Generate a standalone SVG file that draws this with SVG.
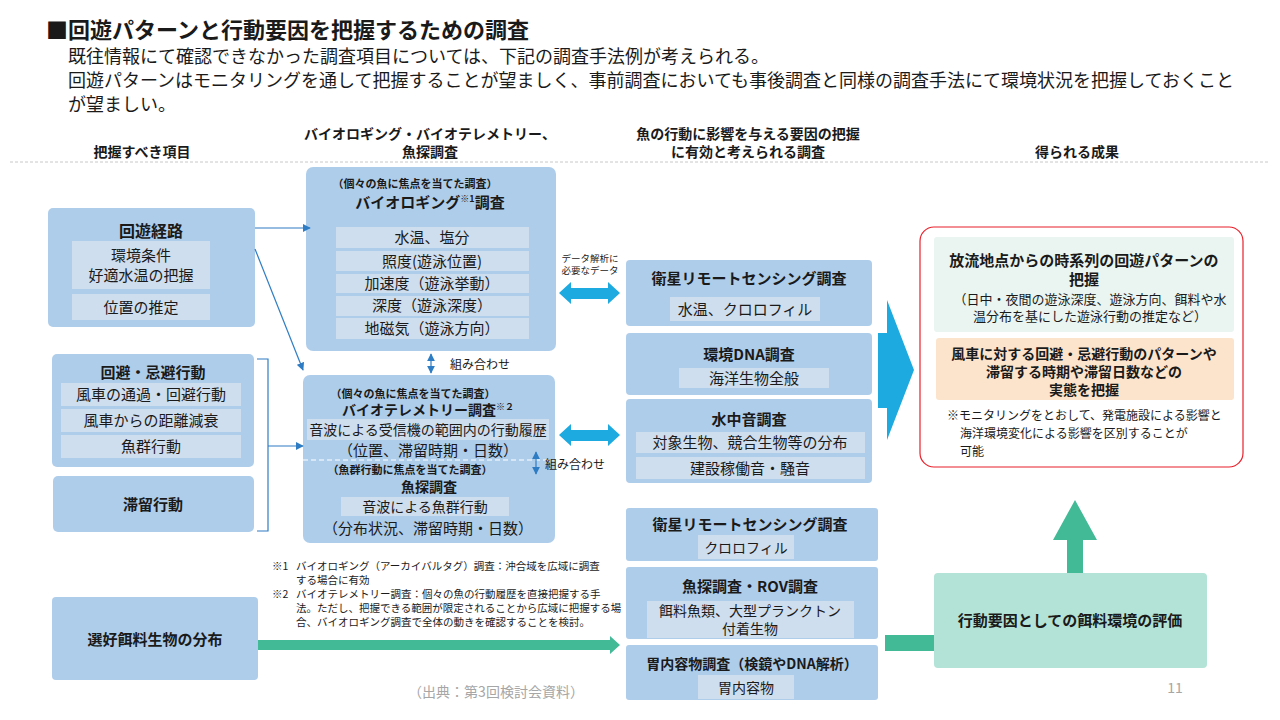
<svg xmlns="http://www.w3.org/2000/svg" width="1280" height="720" viewBox="0 0 1280 720">
<defs>
<style>
text{font-family:"Noto Sans CJK JP","Noto Sans CJK SC",sans-serif;fill:#1a1a1a}
.b{font-weight:700}
.c{text-anchor:middle}
.box{fill:#AECDEA}
.in{fill:#CFDEEE}
.t16{font-size:16px}
.t15{font-size:15px}
.t14{font-size:14px}
.t13{font-size:13px}
.t12{font-size:12px}
.t11{font-size:11px}
.fn{font-size:10.5px}
.ln{stroke:#2E7DC4;stroke-width:1.2;fill:none}
.cy{fill:#1DAAE0}
.gr{fill:#43BA96}
</style>
<marker id="ah" viewBox="0 0 10 10" refX="9" refY="5" markerWidth="8" markerHeight="8" orient="auto-start-reverse" markerUnits="userSpaceOnUse">
<path d="M0,0 L10,5 L0,10 z" fill="#2E7DC4"/>
</marker>
</defs>
<rect width="1280" height="720" fill="#fff"/>

<g id="title">
<text x="46" y="38" class="b" font-size="22">■回遊パターンと行動要因を把握するための調査</text>
<text x="68" y="63" font-size="18">既往情報にて確認できなかった調査項目については、下記の調査手法例が考えられる。</text>
<text x="68" y="87" font-size="18">回遊パターンはモニタリングを通して把握することが望ましく、事前調査においても事後調査と同様の調査手法にて環境状況を把握しておくこと</text>
<text x="68" y="111" font-size="18">が望ましい。</text>
</g>

<g id="headers">
<text x="142" y="157" class="b c t14">把握すべき項目</text>
<text x="430" y="139" class="b c t14">バイオロギング・バイオテレメトリー、</text>
<text x="430" y="157" class="b c t14">魚探調査</text>
<text x="748" y="139" class="b c t14">魚の行動に影響を与える要因の把握</text>
<text x="748" y="157" class="b c t14">に有効と考えられる調査</text>
<text x="1077" y="157" class="b c t14">得られる成果</text>
<line x1="10" y1="162" x2="1270" y2="162" stroke="#C8C8C8" stroke-width="1" stroke-dasharray="3,2"/>
</g>

<g id="n-kaiyu">
<rect x="48" y="208" width="207" height="119" rx="5" class="box"/>
<text x="151" y="237" class="b c t16">回遊経路</text>
<rect x="72" y="241" width="138" height="48" class="in"/>
<text x="141" y="261" class="c t15">環境条件</text>
<text x="141" y="281" class="c t15">好適水温の把握</text>
<rect x="72" y="294" width="138" height="26" class="in"/>
<text x="141" y="313" class="c t15">位置の推定</text>
</g>

<g id="n-kaihi">
<rect x="52" y="354" width="202" height="113" rx="5" class="box"/>
<text x="153" y="378" class="b c t15">回避・忌避行動</text>
<rect x="61" y="383" width="180" height="23" class="in"/>
<text x="151" y="400" class="c t15">風車の通過・回避行動</text>
<rect x="61" y="409" width="180" height="23" class="in"/>
<text x="151" y="426" class="c t15">風車からの距離減衰</text>
<rect x="61" y="435" width="180" height="23" class="in"/>
<text x="151" y="452" class="c t15">魚群行動</text>
</g>

<g id="n-tairyu">
<rect x="53" y="476" width="201" height="56" rx="5" class="box"/>
<text x="153" y="510" class="b c t15">滞留行動</text>
</g>

<g id="n-esa">
<rect x="52" y="597" width="206" height="83" rx="4" class="box"/>
<text x="155" y="645" class="b c t15">選好餌料生物の分布</text>
</g>

<g id="n-biologging">
<rect x="306" y="167" width="250" height="184" rx="7" class="box"/>
<text x="415" y="188" class="b c t11">（個々の魚に焦点を当てた調査）</text>
<text x="430" y="208" class="b c t15">バイオロギング<tspan font-size="9" dy="-6">※1</tspan><tspan dy="6">調査</tspan></text>
<rect x="336" y="227" width="193" height="21" class="in"/>
<text x="432" y="243" class="c t15">水温、塩分</text>
<rect x="336" y="251" width="193" height="20" class="in"/>
<text x="432" y="267" class="c t15">照度(遊泳位置)</text>
<rect x="336" y="274" width="193" height="19" class="in"/>
<text x="432" y="289" class="c t15">加速度（遊泳挙動）</text>
<rect x="336" y="296" width="193" height="20" class="in"/>
<text x="432" y="311" class="c t15">深度（遊泳深度）</text>
<rect x="336" y="318" width="193" height="21" class="in"/>
<text x="432" y="334" class="c t15">地磁気（遊泳方向）</text>
</g>

<g id="n-telemetry">
<rect x="303" y="375" width="252" height="168" rx="7" class="box"/>
<text x="413" y="398" class="b c t11">（個々の魚に焦点を当てた調査）</text>
<text x="428" y="415" class="b c t14">バイオテレメトリー調査<tspan font-size="9" dy="-5">※２</tspan></text>
<rect x="307" y="419" width="242" height="21" class="in"/>
<text x="428" y="435" class="c t14">音波による受信機の範囲内の行動履歴</text>
<text x="428" y="456" class="c t15">（位置、滞留時期・日数）</text>
<line x1="303" y1="460" x2="555" y2="460" stroke="#fff" stroke-width="1" stroke-dasharray="5,3"/>
<text x="410" y="474" class="b c t11">（魚群行動に焦点を当てた調査）</text>
<text x="429" y="492" class="b c t14">魚探調査</text>
<rect x="341" y="497" width="168" height="19" class="in"/>
<text x="425" y="512" class="c t14">音波による魚群行動</text>
<text x="428" y="534" class="c t15">（分布状況、滞留時期・日数）</text>
</g>

<g id="n-eisei1">
<rect x="626" y="260" width="246" height="66" rx="4" class="box"/>
<text x="749" y="284" class="b c t15">衛星リモートセンシング調査</text>
<rect x="670" y="297" width="150" height="24" class="in"/>
<text x="745" y="315" class="c t15">水温、クロロフィル</text>
</g>

<g id="n-dna">
<rect x="626" y="333" width="246" height="62" rx="4" class="box"/>
<text x="749" y="360" class="b c t15">環境DNA調査</text>
<rect x="679" y="368" width="150" height="20" class="in"/>
<text x="754" y="384" class="c t15">海洋生物全般</text>
</g>

<g id="n-suichu">
<rect x="626" y="399" width="246" height="84" rx="4" class="box"/>
<text x="749" y="425" class="b c t15">水中音調査</text>
<rect x="636" y="432" width="229" height="21" class="in"/>
<text x="750" y="448" class="c t15">対象生物、競合生物等の分布</text>
<rect x="636" y="457" width="229" height="22" class="in"/>
<text x="750" y="474" class="c t15">建設稼働音・騒音</text>
</g>

<g id="n-eisei2">
<rect x="626" y="508" width="252" height="53" rx="3" class="box"/>
<text x="750" y="530" class="b c t15">衛星リモートセンシング調査</text>
<rect x="698" y="535" width="96" height="24" class="in"/>
<text x="746" y="553" class="c t14">クロロフィル</text>
</g>

<g id="n-rov">
<rect x="626" y="567" width="252" height="72" rx="3" class="box"/>
<text x="750" y="592" class="b c t15">魚探調査・ROV調査</text>
<rect x="647" y="601" width="207" height="37" class="in"/>
<text x="750" y="616" class="c t14">餌料魚類、大型プランクトン</text>
<text x="750" y="634" class="c t14">付着生物</text>
</g>

<g id="n-inai">
<rect x="626" y="645" width="252" height="55" rx="3" class="box"/>
<text x="752" y="669" class="b c t14">胃内容物調査（検鏡やDNA解析）</text>
<rect x="698" y="675" width="96" height="24" class="in"/>
<text x="746" y="693" class="c t14">胃内容物</text>
</g>

<g id="n-hyoka">
<rect x="934" y="573" width="273" height="95" rx="4" fill="#B3E3D6"/>
<text x="1070" y="626" class="b c t15">行動要因としての餌料環境の評価</text>
</g>

<g id="n-result">
<rect x="920" y="227" width="323" height="240" rx="14" fill="#fff" stroke="#E8202A" stroke-width="1.2"/>
<rect x="934" y="237" width="300" height="95" rx="3" fill="#EAF5F1"/>
<text x="1084" y="266" class="b c t15">放流地点からの時系列の回遊パターンの</text>
<text x="1084" y="285" class="b c t15">把握</text>
<text x="1090" y="304" class="c t13">（日中・夜間の遊泳深度、遊泳方向、餌料や水</text>
<text x="1090" y="321" class="c t13">温分布を基にした遊泳行動の推定など）</text>
<rect x="936" y="338" width="298" height="62" rx="3" fill="#FCE4CC"/>
<text x="1084" y="359" class="b c t14">風車に対する回避・忌避行動のパターンや</text>
<text x="1084" y="377" class="b c t14">滞留する時期や滞留日数などの</text>
<text x="1084" y="395" class="b c t14">実態を把握</text>
<text x="947" y="420" class="t12">※モニタリングをとおして、発電施設による影響と</text>
<text x="960" y="438" class="t12">海洋環境変化による影響を区別することが</text>
<text x="960" y="456" class="t12">可能</text>
</g>

<g id="connectors">
<line x1="255" y1="228" x2="310" y2="228" class="ln" marker-end="url(#ah)"/>
<line x1="255" y1="249" x2="303" y2="370" class="ln" marker-end="url(#ah)"/>
<polyline points="257,359 268,359 268,531 257,531" class="ln"/>
<line x1="268" y1="446" x2="303" y2="446" class="ln" marker-end="url(#ah)"/>
<line x1="431" y1="354" x2="431" y2="373" class="ln" marker-start="url(#ah)" marker-end="url(#ah)"/>
<text x="450" y="369" font-size="12">組み合わせ</text>
<line x1="536" y1="452" x2="536" y2="474" class="ln" marker-start="url(#ah)" marker-end="url(#ah)"/>
<text x="545" y="469" font-size="12">組み合わせ</text>
<text x="590" y="262" class="c" font-size="9.5">データ解析に</text>
<text x="590" y="274" class="c" font-size="9.5">必要なデータ</text>
<polygon class="cy" points="559,293 571,282 571,288 608,288 608,282 620,293 608,304 608,299 571,299 571,304"/>
<polygon class="cy" points="559,435 571,424 571,430 608,430 608,424 620,435 608,446 608,441 571,441 571,446"/>
<polygon class="cy" points="878,333 887,333 887,300 914,370 887,440 887,408 878,408"/>
<polygon class="gr" points="258,640 610,640 610,636 620,645 610,654 610,650 258,650"/>
<rect x="885" y="635" width="49" height="16" class="gr"/>
<polygon class="gr" points="1067,573 1067,540 1053,540 1075,500 1097,540 1083,540 1083,573"/>
</g>

<g id="notes">
<text x="272" y="570" class="fn">※1</text>
<text x="296" y="570" class="fn">バイオロギング（アーカイバルタグ）調査：沖合域を広域に調査</text>
<text x="296" y="584" class="fn">する場合に有効</text>
<text x="272" y="598" class="fn">※2</text>
<text x="296" y="598" class="fn">バイオテレメトリー調査：個々の魚の行動履歴を直接把握する手</text>
<text x="296" y="612" class="fn">法。ただし、把握できる範囲が限定されることから広域に把握する場</text>
<text x="296" y="626" class="fn">合、バイオロギング調査で全体の動きを確認することを検討。</text>
<text x="496" y="697" class="c" font-size="14" style="fill:#A6A6A6">（出典：第3回検討会資料）</text>
<text x="1175" y="693" class="c" font-size="14" style="fill:#A6A6A6">11</text>
</g>
</svg>
